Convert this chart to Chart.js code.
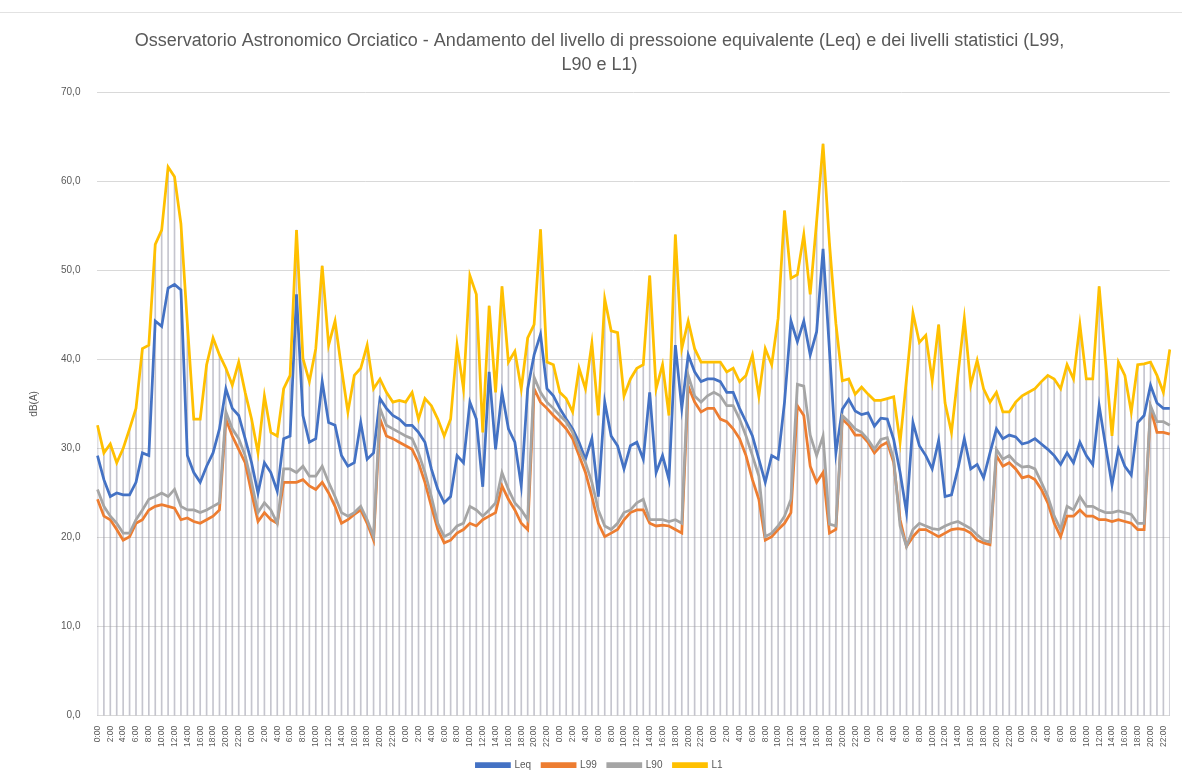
<!DOCTYPE html>
<html lang="it">
<head>
  <meta charset="UTF-8" />
  <title>Osservatorio Astronomico Orciatico - Leq, L99, L90, L1</title>
  <script src="https://cdn.jsdelivr.net/npm/chart.js"></script>
  <style>
    html, body {
      margin: 0;
      padding: 0;
      background: #ffffff;
    }
    #wrap {
      position: relative;
      width: 1182px;
      height: 780px;
    }
    #frame {
      position: absolute;
      left: 0;
      right: 0;
      top: 12px;
      border-top: 1px solid #e2e2e2;
    }
  </style>
</head>
<body>
  <div id="wrap">
    <div id="frame"></div>
    <canvas id="chart"></canvas>
  </div>

  <script>
    // hours of the day, repeated for the 7 days of measurement
    const hours = ['0:00', '1:00', '2:00', '3:00', '4:00', '5:00', '6:00', '7:00', '8:00', '9:00', '10:00', '11:00',
      '12:00', '13:00', '14:00', '15:00', '16:00', '17:00', '18:00', '19:00', '20:00', '21:00', '22:00', '23:00'];
    const days = 7;

    const leq = [
      29.2, 26.5, 24.6, 25.0, 24.8, 24.8, 26.2, 29.5, 29.2, 44.3, 43.7, 48.0, 48.4, 47.8, 29.2, 27.3, 26.2, 28.0, 29.5, 32.2, 36.7, 34.5, 33.7, 31.1,
      28.4, 25.0, 28.4, 27.3, 25.2, 31.1, 31.4, 47.3, 33.7, 30.7, 31.1, 37.5, 32.9, 32.6, 29.2, 28.0, 28.4, 32.9, 28.8, 29.5, 35.6, 34.5, 33.7, 33.3,
      32.6, 32.6, 31.8, 30.7, 27.7, 25.4, 23.9, 24.6, 29.2, 28.4, 35.2, 33.3, 25.7, 38.6, 29.9, 36.3, 32.2, 30.7, 25.8, 36.7, 40.5, 42.8, 36.7, 35.9,
      34.5, 33.3, 32.2, 30.7, 28.8, 31.1, 24.6, 35.2, 31.4, 30.3, 27.7, 30.3, 30.7, 28.8, 36.3, 27.3, 29.2, 26.5, 41.6, 34.5, 40.5, 38.6, 37.5, 37.8,
      37.8, 37.5, 36.3, 36.3, 34.5, 33.0, 31.4, 28.8, 26.2, 29.2, 28.8, 35.2, 44.3, 42.0, 44.3, 40.5, 43.1, 52.4, 41.0, 29.5, 34.4, 35.5, 34.2, 33.8,
      34.0, 32.5, 33.4, 33.3, 31.0, 27.3, 22.8, 32.9, 30.3, 29.2, 27.7, 30.9, 24.6, 24.8, 27.7, 31.1, 27.7, 28.2, 26.7, 29.5, 32.2, 31.1, 31.5, 31.3,
      30.5, 30.7, 31.1, 30.5, 29.9, 29.2, 28.2, 29.5, 28.4, 30.7, 29.2, 28.2, 34.8, 30.3, 25.9, 29.9, 28.0, 27.0, 32.9, 33.7, 37.1, 35.1, 34.5, 34.5
    ];
    const l99 = [
      24.3, 22.4, 22.0, 20.9, 19.7, 20.1, 21.6, 22.0, 23.1, 23.5, 23.7, 23.5, 23.3, 22.0, 22.2, 21.8, 21.6, 22.0, 22.4, 23.1, 33.3, 31.4, 29.9, 28.4,
      25.0, 21.8, 22.8, 22.0, 21.6, 26.2, 26.2, 26.2, 26.5, 25.8, 25.4, 26.2, 25.0, 23.5, 21.6, 22.0, 22.6, 23.1, 21.6, 19.7, 33.3, 31.4, 31.1, 30.7,
      30.3, 29.9, 28.4, 26.2, 23.5, 20.9, 19.4, 19.7, 20.5, 20.9, 21.6, 21.3, 22.0, 22.4, 22.8, 25.8, 24.3, 23.1, 21.6, 20.9, 36.7, 35.2, 34.5, 33.7,
      33.0, 32.2, 31.1, 29.2, 27.3, 24.6, 21.6, 20.1, 20.5, 20.9, 22.0, 22.8, 23.1, 23.1, 21.6, 21.3, 21.4, 21.3, 20.9, 20.5, 37.0, 35.2, 34.1, 34.5,
      34.5, 33.3, 33.0, 32.2, 31.1, 29.2, 26.5, 24.3, 19.7, 20.1, 20.9, 21.6, 22.8, 34.8, 33.7, 28.0, 26.2, 27.3, 20.5, 20.9, 33.3, 32.6, 31.5, 31.5,
      30.7, 29.5, 30.3, 30.7, 28.4, 22.0, 19.0, 20.1, 20.9, 20.9, 20.5, 20.1, 20.5, 20.9, 21.0, 20.9, 20.5, 19.7, 19.4, 19.2, 29.2, 28.0, 28.4, 27.7,
      26.7, 26.9, 26.5, 25.4, 23.9, 21.6, 20.1, 22.4, 22.4, 23.1, 22.4, 22.4, 22.0, 22.0, 21.8, 22.0, 21.8, 21.6, 20.9, 20.9, 34.5, 31.8, 31.8, 31.6
    ];
    const l90 = [
      25.4, 23.5, 22.4, 21.6, 20.5, 20.5, 22.0, 23.1, 24.3, 24.6, 25.0, 24.6, 25.4, 23.5, 23.1, 23.1, 22.8, 23.1, 23.5, 23.9, 34.1, 32.2, 31.1, 29.2,
      26.2, 22.8, 23.9, 23.1, 21.6, 27.7, 27.7, 27.3, 28.0, 26.9, 26.9, 28.0, 26.2, 24.6, 22.8, 22.4, 22.8, 23.5, 22.0, 20.1, 34.5, 32.6, 32.2, 31.8,
      31.4, 31.1, 29.5, 27.3, 24.6, 21.6, 20.1, 20.5, 21.3, 21.6, 23.5, 23.1, 22.4, 23.1, 23.9, 27.3, 25.4, 23.9, 23.1, 22.0, 38.0, 36.3, 35.2, 34.5,
      33.7, 33.0, 31.8, 29.9, 28.4, 26.2, 23.1, 21.3, 20.9, 21.6, 22.8, 23.1, 23.9, 24.3, 22.0, 22.0, 22.0, 21.8, 22.0, 21.6, 38.2, 35.9, 35.2, 35.9,
      36.3, 35.9, 34.8, 34.8, 33.3, 31.4, 29.2, 26.9, 20.1, 20.5, 21.3, 22.4, 24.3, 37.2, 37.0, 31.5, 29.2, 31.4, 21.5, 21.3, 33.7, 33.0, 32.2, 31.8,
      31.0, 29.9, 31.0, 31.2, 28.8, 21.3, 19.0, 20.9, 21.6, 21.3, 21.0, 20.9, 21.3, 21.6, 21.8, 21.4, 21.0, 20.3, 19.7, 19.5, 29.9, 28.8, 29.2, 28.4,
      27.9, 28.0, 27.7, 26.2, 24.6, 22.4, 20.9, 23.5, 23.1, 24.6, 23.5, 23.5, 23.1, 22.8, 22.8, 23.0, 22.8, 22.6, 21.6, 21.6, 34.8, 33.0, 33.0, 32.6
    ];
    const l1 = [
      32.6, 29.5, 30.5, 28.4, 30.0, 32.2, 34.5, 41.2, 41.6, 52.9, 54.5, 61.6, 60.5, 55.2, 44.0, 33.3, 33.3, 39.4, 42.4, 40.5, 39.0, 37.1, 39.7, 36.3,
      33.3, 29.5, 35.9, 31.8, 31.4, 36.7, 38.2, 54.5, 40.1, 37.5, 41.2, 50.5, 41.6, 44.3, 39.0, 34.1, 38.2, 39.0, 41.6, 36.7, 37.8, 36.3, 35.2, 35.4,
      35.2, 36.3, 33.3, 35.6, 34.8, 33.3, 31.4, 33.3, 41.6, 36.7, 49.4, 47.3, 31.8, 46.0, 36.3, 48.2, 39.7, 40.9, 36.7, 42.4, 43.9, 54.6, 39.7, 39.4,
      36.3, 35.6, 34.1, 39.0, 36.7, 41.8, 33.7, 46.8, 43.2, 43.0, 35.9, 37.8, 39.0, 39.4, 49.4, 36.7, 39.4, 33.7, 54.0, 41.2, 44.3, 41.2, 39.7, 39.7,
      39.7, 39.7, 38.6, 39.0, 37.5, 38.2, 40.5, 35.9, 41.2, 39.4, 44.6, 56.7, 49.1, 49.5, 54.0, 47.3, 55.5, 64.2, 53.0, 44.0, 37.6, 37.8, 36.1, 36.9,
      36.1, 35.4, 35.4, 35.6, 35.8, 30.7, 37.8, 45.2, 41.9, 42.7, 37.6, 43.9, 35.1, 31.8, 38.2, 44.6, 37.1, 39.9, 36.7, 35.2, 36.3, 34.1, 34.1, 35.2,
      35.9, 36.3, 36.7, 37.5, 38.2, 37.8, 36.7, 39.4, 37.8, 43.9, 37.8, 37.8, 48.2, 39.7, 31.4, 39.7, 38.2, 34.1, 39.4, 39.5, 39.7, 38.2, 36.3, 41.1
    ];

    const labels = [];
    for (let d = 0; d < days; d++) {
      hours.forEach(h => labels.push(h));
    }

    const textColor = '#595959';

    const ctx = document.getElementById('chart');
    const chart = new Chart(ctx, {
      data: {
        labels: labels,
        datasets: [
          { type: 'line', label: 'Leq', data: leq, borderColor: '#4472C4', backgroundColor: '#4472C4', borderWidth: 2.75, pointRadius: 0, order: 4 },
          { type: 'line', label: 'L99', data: l99, borderColor: '#ED7D31', backgroundColor: '#ED7D31', borderWidth: 2.75, pointRadius: 0, order: 3 },
          { type: 'line', label: 'L90', data: l90, borderColor: '#A5A5A5', backgroundColor: '#A5A5A5', borderWidth: 2.75, pointRadius: 0, order: 2 },
          { type: 'line', label: 'L1', data: l1, borderColor: '#FFC000', backgroundColor: '#FFC000', borderWidth: 2.75, pointRadius: 0, order: 1 },
          // drop lines from the highest series down to the axis
          { type: 'bar', label: 'drop', data: l1, backgroundColor: 'rgba(150,150,165,0.55)', barThickness: 1, order: 10 }
        ]
      },
      options: {
        responsive: true,
        maintainAspectRatio: false,
        animation: false,
        layout: { padding: { left: 24, right: 7, top: 30, bottom: 0 } },
        scales: {
          x: {
            offset: false,
            grid: { display: false },
            border: { color: '#d9d9d9' },
            ticks: {
              autoSkip: false,
              maxRotation: 90,
              minRotation: 90,
              padding: 2,
              color: textColor,
              font: { family: 'Liberation Sans', size: 8.5 },
              callback: function (value, index) {
                return index % 2 === 0 ? this.getLabelForValue(value) : '';
              }
            }
          },
          y: {
            min: 0,
            max: 70,
            border: { display: false },
            grid: { color: '#d9d9d9', drawTicks: false },
            ticks: {
              stepSize: 10,
              padding: 17,
              color: textColor,
              font: { family: 'Liberation Sans', size: 10 },
              callback: v => v.toFixed(1).replace('.', ',')
            },
            title: {
              display: true,
              text: 'dB(A)',
              color: textColor,
              font: { family: 'Liberation Sans', size: 10 }
            }
          }
        },
        plugins: {
          title: {
            display: true,
            text: ['Osservatorio Astronomico Orciatico - Andamento del livello di pressoione equivalente (Leq) e dei livelli statistici (L99,', 'L90 e L1)'],
            color: textColor,
            font: { family: 'Liberation Sans', size: 18, weight: 'normal', lineHeight: 1.28 },
            padding: { top: 0, bottom: 16 }
          },
          legend: {
            position: 'bottom',
            labels: {
              boxWidth: 33,
              boxHeight: 3,
              padding: 11,
              color: textColor,
              font: { family: 'Liberation Sans', size: 10 },
              filter: item => item.text !== 'drop',
              sort: (a, b) => a.datasetIndex - b.datasetIndex
            }
          },
          tooltip: { enabled: false }
        }
      }
    });
  </script>
</body>
</html>
